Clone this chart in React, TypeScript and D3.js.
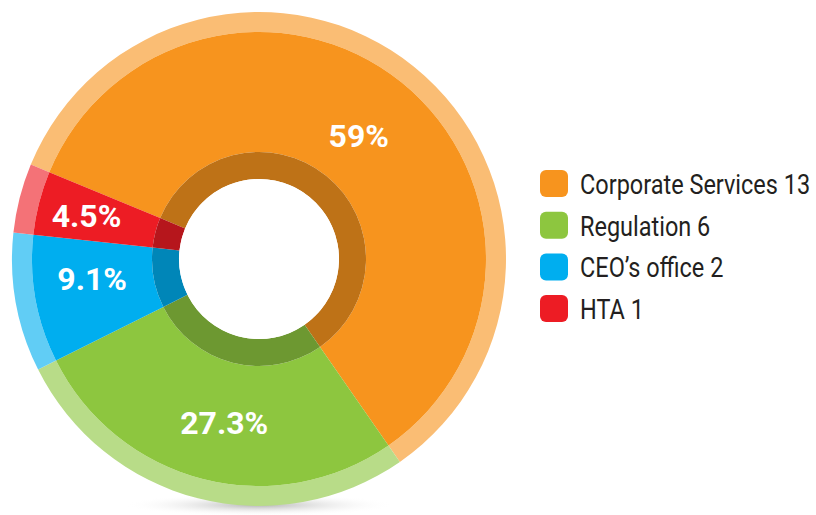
import React from 'react';
import * as d3 from 'd3';

const categories = ['Corporate Services', 'Regulation', "CEO\u2019s office", 'HTA'];
const counts = [13, 6, 2, 1];
const pctLabels = ['59%', '27.3%', '9.1%', '4.5%'];
const colors = ['#F7941E', '#8DC63F', '#00AEEF', '#ED1C24'];

const width = 816;
const height = 515;

const App: React.FC = () => {
  const cx = 259;
  const cy = 259;
  const rOuter = 247;
  const rMain = 227;
  const rDark = 107;
  const rHole = 80;

  const pie = d3.pie<number>()
    .sort(null)
    .startAngle((-67.5 * Math.PI) / 180)
    .endAngle((-67.5 * Math.PI) / 180 + 2 * Math.PI);
  const slices = pie(counts);

  const arcLight = d3.arc<d3.PieArcDatum<number>>().innerRadius(rMain).outerRadius(rOuter);
  const arcMain = d3.arc<d3.PieArcDatum<number>>().innerRadius(rDark).outerRadius(rMain);
  const arcDark = d3.arc<d3.PieArcDatum<number>>().innerRadius(rHole).outerRadius(rDark);

  // label distance from centre along each slice's mid-angle
  const labelRadius = [159, 167, 168, 178];
  const labelShift = [0, -0.04, 0.06, 0];

  const lighten = (c: string) => d3.interpolateRgb(c, '#ffffff')(0.38);
  const darken = (c: string) => d3.interpolateRgb(c, '#000000')(0.23);

  const legendX = 540;
  const legendY = 170;
  const legendStep = 41.7;
  const fontFamily = 'Roboto, "Noto Sans", sans-serif';

  return (
    <svg width={width} height={height} style={{ position: 'absolute', left: 0, top: 0 }}>
      <defs>
        <radialGradient id="shadow" cx="50%" cy="50%" r="50%">
          <stop offset="0%" stopColor="#9a9a9a" stopOpacity={0.75} />
          <stop offset="100%" stopColor="#ffffff" stopOpacity={0} />
        </radialGradient>
      </defs>
      <rect width={width} height={height} fill="#ffffff" />
      <ellipse cx={cx} cy={505} rx={135} ry={11} fill="url(#shadow)" />
      <g transform={`translate(${cx},${cy})`}>
        {slices.map((s, i) => (
          <g key={categories[i]}>
            <path d={arcLight(s) || ''} fill={lighten(colors[i])} />
            <path d={arcMain(s) || ''} fill={colors[i]} />
            <path d={arcDark(s) || ''} fill={darken(colors[i])} />
          </g>
        ))}
        <circle r={rHole} fill="#ffffff" />
        {slices.map((s, i) => {
          const a = (s.startAngle + s.endAngle) / 2 + labelShift[i];
          const x = Math.sin(a) * labelRadius[i];
          const y = -Math.cos(a) * labelRadius[i];
          return (
            <text
              key={`l-${i}`}
              x={x}
              y={y}
              dy="0.36em"
              textAnchor="middle"
              fill="#ffffff"
              fontFamily={fontFamily}
              fontWeight={700}
              fontSize={32}
            >
              {pctLabels[i]}
            </text>
          );
        })}
      </g>
      <g>
        {categories.map((c, i) => (
          <g key={`lg-${c}`} transform={`translate(${legendX},${legendY + i * legendStep})`}>
            <rect width={28} height={27} rx={6} fill={colors[i]} />
            {/* the reference uses a condensed face: squeeze Roboto horizontally */}
            <g transform="translate(40,24) scale(0.87,1)">
              <text x={0} y={0} fill="#231f20" fontFamily={fontFamily} fontSize={27}>
                {`${c} ${counts[i]}`}
              </text>
            </g>
          </g>
        ))}
      </g>
    </svg>
  );
};

export default App;
